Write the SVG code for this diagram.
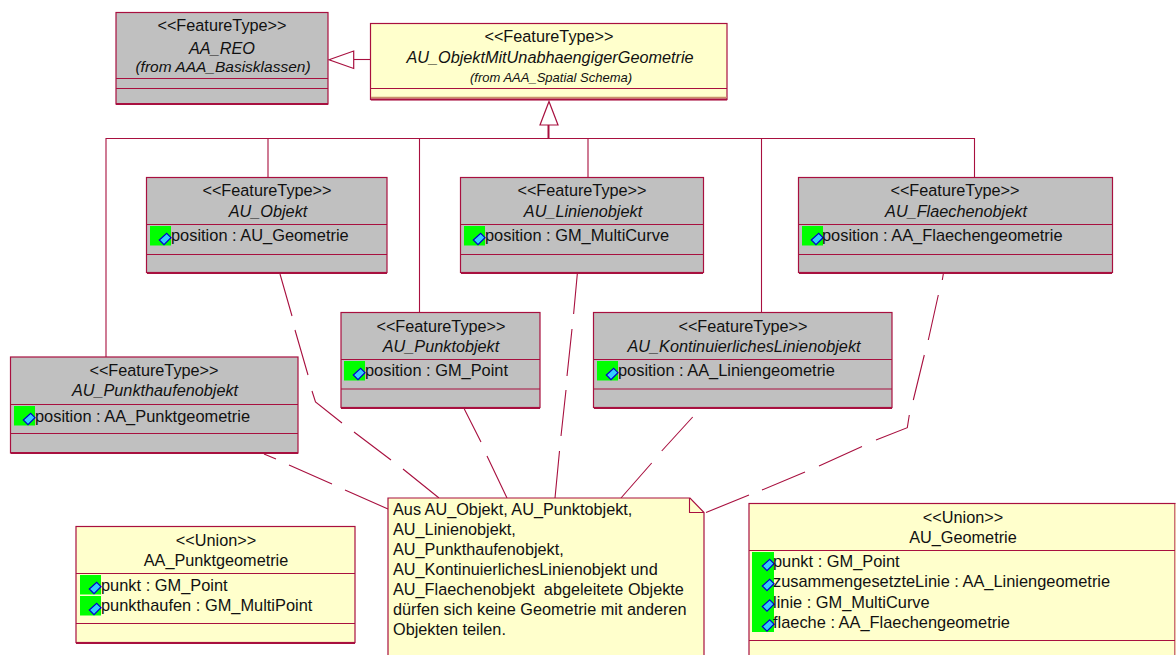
<svg xmlns="http://www.w3.org/2000/svg" width="1176" height="655" viewBox="0 0 1176 655">
<style>
text{font-family:"Liberation Sans",Arial,sans-serif;font-size:16.25px;fill:#111;white-space:pre}
.c{text-anchor:middle}
.i{font-style:italic}
.a{font-size:16.4px}
.s{font-size:15.5px;font-style:italic}
.xs{font-size:13px;font-style:italic}
.g{fill:#c0c0c0;stroke:#a8103f;stroke-width:1.2}
.y{fill:#ffffcc;stroke:#a8103f;stroke-width:1.2}
.l{stroke:#a8103f;stroke-width:1.1;fill:none}
.b{stroke:#a8103f;stroke-width:2;fill:none}
.h{fill:#fff;stroke:#a8103f;stroke-width:1.2}
</style>
<defs>
<g id="icn"><polygon points="9.3,14 16.7,7.3 21,11.7 14,18.7" fill="#33ccff" stroke="#0000cc" stroke-width="1.2"/></g>
<g id="ic"><rect x="0" y="0" width="21" height="19.500" fill="#00ff00"/><use href="#icn"/></g>
</defs>
<g id="connectors">
<path class="l" d="M106 357V138.500H974.500V177M268 138.500V177M419.500 138.500V312M588 138.500V177M761.500 138.500V312"/>
<path class="b" d="M548.500 125V138.500"/>
<path class="l" d="M354 59.500H371"/>
<polygon class="h" points="549,101.500 558,125 540,125"/>
<polygon class="h" points="329,59.700 353.700,51 353.700,68.500"/>
<path class="l" d="M280 274L292 316M295 330L308 375M312 391L315.500 402L342 423M354 432L391 460M403 469L439 498"/>
<path class="l" d="M264 454L276 459M289 465L332 484M345 490L388 509"/>
<path class="l" d="M464.300 409L481 442M487 456L507 498"/>
<path class="l" d="M577.300 274L573.600 314M572 329L567 376M566 390L561 436M559.500 451L555 498"/>
<path class="l" d="M692.700 417L661.700 451M651.700 463L621 498"/>
<path class="l" d="M943.300 274L942.300 280M938.300 295L928.300 340M924.300 355L913.300 400M909.300 415L907.300 427.700L876 440M862 446.600L819 466M805 472L762 490M749 495L706 512.500"/>
</g>
<g id="AA_REO">
<rect class="g" x="116" y="12.500" width="212" height="91.500"/>
<path class="l" d="M116 78.500H328M116 88.500H328"/><path class="b" d="M116 104H328"/>
<text class="c" x="222" y="31">&lt;&lt;FeatureType&gt;&gt;</text>
<text class="c i" x="222" y="54">AA_REO</text>
<text class="c s" x="223" y="72">(from AAA_Basisklassen)</text>
</g>
<g id="AU_ObjektMitUnabhaengigerGeometrie">
<rect class="y" x="370.500" y="23.500" width="356.500" height="76"/>
<path class="l" d="M371 88.500H727"/>
<path d="M371 97.500H727" stroke="#c8906a" stroke-width="1.5"/>
<path class="b" d="M371 99.500H727"/>
<text class="c" x="549" y="42">&lt;&lt;FeatureType&gt;&gt;</text>
<text class="c i" x="550" y="63">AU_ObjektMitUnabhaengigerGeometrie</text>
<text class="c xs" x="551" y="82">(from AAA_Spatial Schema)</text>
</g>
<g id="AU_Objekt">
<rect class="g" x="146.500" y="177.500" width="240.500" height="95"/>
<path class="l" d="M147 224.500H387M147 254.500H387"/><path class="b" d="M147 273H387"/>
<text class="c" x="267" y="196">&lt;&lt;FeatureType&gt;&gt;</text>
<text class="c i" x="268" y="217">AU_Objekt</text>
<use href="#ic" x="150" y="226"/>
<text class="a" x="171" y="241">position : AU_Geometrie</text>
</g>
<g id="AU_Linienobjekt">
<rect class="g" x="460.500" y="177.500" width="243" height="95"/>
<path class="l" d="M461 224.500H703M461 254.500H703"/><path class="b" d="M461 273H703"/>
<text class="c" x="582" y="196">&lt;&lt;FeatureType&gt;&gt;</text>
<text class="c i" x="583" y="217">AU_Linienobjekt</text>
<use href="#ic" x="464" y="226"/>
<text class="a" x="485" y="241">position : GM_MultiCurve</text>
</g>
<g id="AU_Flaechenobjekt">
<rect class="g" x="798.500" y="177.500" width="314" height="95"/>
<path class="l" d="M799 224.500H1112M799 254.500H1112"/><path class="b" d="M799 273H1112"/>
<text class="c" x="955" y="196">&lt;&lt;FeatureType&gt;&gt;</text>
<text class="c i" x="956" y="217">AU_Flaechenobjekt</text>
<use href="#ic" x="802" y="226"/>
<text class="a" x="822" y="241">position : AA_Flaechengeometrie</text>
</g>
<g id="AU_Punktobjekt">
<rect class="g" x="341" y="312.500" width="199" height="95"/>
<path class="l" d="M341 359.500H540M341 389H540"/><path class="b" d="M341 408H540"/>
<text class="c" x="441" y="332">&lt;&lt;FeatureType&gt;&gt;</text>
<text class="c i" x="441" y="352">AU_Punktobjekt</text>
<use href="#ic" x="344" y="361"/>
<text class="a" x="365" y="376">position : GM_Point</text>
</g>
<g id="AU_KontinuierlichesLinienobjekt">
<rect class="g" x="593.500" y="312.500" width="298.500" height="95"/>
<path class="l" d="M594 359.500H892M594 389H892"/><path class="b" d="M594 408H892"/>
<text class="c" x="743" y="332">&lt;&lt;FeatureType&gt;&gt;</text>
<text class="c i" x="744" y="352">AU_KontinuierlichesLinienobjekt</text>
<use href="#ic" x="597" y="361"/>
<text class="a" x="618" y="376">position : AA_Liniengeometrie</text>
</g>
<g id="AU_Punkthaufenobjekt">
<rect class="g" x="10.500" y="357" width="287.500" height="96"/>
<path class="l" d="M11 404.500H298M11 433.500H298"/><path class="b" d="M11 453H298"/>
<text class="c" x="154" y="376">&lt;&lt;FeatureType&gt;&gt;</text>
<text class="c i" x="155" y="396">AU_Punkthaufenobjekt</text>
<use href="#ic" x="14" y="406"/>
<text class="a" x="35" y="422">position : AA_Punktgeometrie</text>
</g>
<g id="Note">
<path class="y" d="M388 498H690L704 512.500V660H388Z"/>
<path class="l" d="M689.500 498V512.500H704"/>
<text x="393" y="515">Aus AU_Objekt, AU_Punktobjekt,</text>
<text x="393" y="535">AU_Linienobjekt,</text>
<text x="393" y="555">AU_Punkthaufenobjekt,</text>
<text x="393" y="575">AU_KontinuierlichesLinienobjekt und</text>
<text x="393" y="595">AU_Flaechenobjekt  abgeleitete Objekte</text>
<text x="393" y="615">dürfen sich keine Geometrie mit anderen</text>
<text x="393" y="635">Objekten teilen.</text>
</g>
<g id="AA_Punktgeometrie">
<rect class="y" x="76" y="526.500" width="279" height="116"/>
<path class="l" d="M76 573.500H355M76 623.500H355"/><path class="b" d="M76 643H355"/>
<text class="c" x="216" y="546">&lt;&lt;Union&gt;&gt;</text>
<text class="c" x="216" y="566">AA_Punktgeometrie</text>
<use href="#ic" x="80" y="575"/>
<use href="#ic" x="80" y="596"/>
<text class="a" x="101" y="591">punkt : GM_Point</text>
<text class="a" x="101" y="611">punkthaufen : GM_MultiPoint</text>
</g>
<g id="AU_Geometrie">
<rect x="749" y="503.500" width="426" height="160" fill="#ffffcc" stroke="#a8103f" stroke-width="1.2"/>
<path d="M1175.500 504V655" stroke="#e8c0a8" stroke-width="1"/>
<path class="l" d="M749 550.500H1175M749 640.500H1175"/>
<rect x="752" y="552" width="22" height="80" fill="#00ff00"/>
<use href="#icn" x="753" y="552"/>
<use href="#icn" x="753" y="572"/>
<use href="#icn" x="753" y="592.500"/>
<use href="#icn" x="753" y="612.500"/>
<text class="c" x="963" y="523">&lt;&lt;Union&gt;&gt;</text>
<text class="c" x="963" y="543">AU_Geometrie</text>
<text class="a" x="773" y="567">punkt : GM_Point</text>
<text class="a" x="773" y="587">zusammengesetzteLinie : AA_Liniengeometrie</text>
<text class="a" x="773" y="608">linie : GM_MultiCurve</text>
<text class="a" x="773" y="628">flaeche : AA_Flaechengeometrie</text>
</g>
</svg>
